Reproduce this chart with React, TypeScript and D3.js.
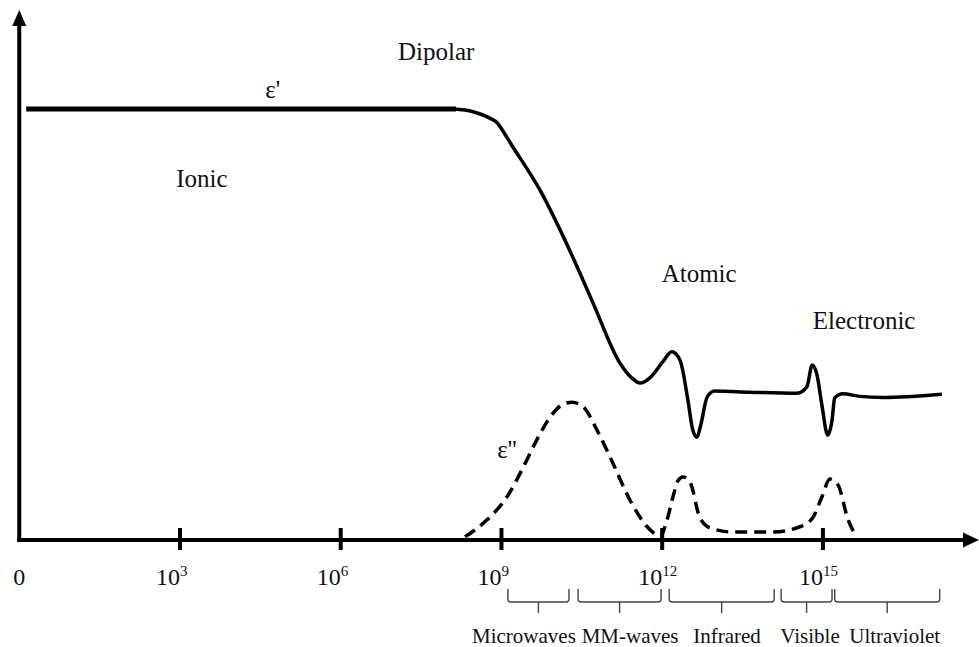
import React from "react";
import * as d3 from "d3";

// x: log10(frequency), y: relative permittivity (arbitrary units)
const epsRealFlat: [number, number][] = [
  [0.13, 8.13],
  [8.15, 8.13],
];

const epsReal: [number, number][] = [
  [8.1, 8.13], [8.47, 8.08], [8.78, 7.96], [8.93, 7.86], [9.0, 7.76], [9.16, 7.5],
  [9.72, 6.6], [10.33, 5.34],
  [10.71, 4.47], [11.21, 3.34], [11.43, 3.06], [11.59, 2.96], [11.77, 3.06],
  [12.01, 3.36], [12.18, 3.55], [12.33, 3.4], [12.48, 2.64], [12.57, 2.08],
  [12.65, 1.94], [12.72, 2.17], [12.84, 2.7], [12.98, 2.81], [13.64, 2.79],
  [14.52, 2.77], [14.7, 2.89], [14.8, 3.3], [14.89, 3.11], [14.98, 2.55],
  [15.09, 1.98], [15.17, 2.26], [15.22, 2.68], [15.37, 2.76], [15.69, 2.71],
  [16.12, 2.69], [17.22, 2.75],
];

const epsImag: [number, number][] = [
  [8.32, 0.06], [8.73, 0.38], [9.1, 0.81], [9.38, 1.32], [9.66, 1.89], [9.91, 2.32],
  [10.13, 2.55], [10.32, 2.6], [10.53, 2.51], [10.78, 2.08], [11.08, 1.45],
  [11.4, 0.75], [11.72, 0.25], [11.9, 0.09], [11.96, 0.06], [12.09, 0.38],
  [12.2, 0.81], [12.29, 1.11], [12.39, 1.19], [12.52, 1.09], [12.7, 0.43],
  [12.89, 0.23], [13.32, 0.15], [14.07, 0.15], [14.57, 0.25], [14.81, 0.42],
  [14.98, 0.81], [15.13, 1.15], [15.28, 1.04], [15.47, 0.38], [15.63, 0.06],
];

const tickValues = [0, 3, 6, 9, 12, 15];

const bandNames = ["Microwaves", "MM-waves", "Infrared", "Visible", "Ultraviolet"];
const bandStart = [9.12, 10.43, 12.13, 14.22, 15.22];
const bandEnd = [10.26, 11.98, 14.09, 15.17, 17.18];
const bandLabelAt = [9.42, 11.4, 13.21, 14.76, 16.34];

const annoText = ["Dipolar", "ε'", "Ionic", "Atomic", "Electronic", "ε''"];
const annoX = [7.07, 4.59, 2.93, 11.99, 14.81, 8.92];
const annoY = [9.06, 8.34, 6.66, 4.87, 3.98, 1.55];

const W = 979;
const H = 647;

export default function App() {
  const x = d3.scaleLinear().domain([0, 17.9]).range([19.25, 978.3]);
  const y = d3.scaleLinear().domain([0, 10]).range([540, 10]);

  const line = d3
    .line<[number, number]>()
    .x((d) => x(d[0]))
    .y((d) => y(d[1]))
    .curve(d3.curveMonotoneX);
  const straight = d3
    .line<[number, number]>()
    .x((d) => x(d[0]))
    .y((d) => y(d[1]));

  const x0 = x(0);
  const y0 = y(0);
  const serif = "'Liberation Serif', 'Times New Roman', serif";
  const bandTop = y0 + 49;
  const bandBot = y0 + 62;

  return (
    <svg
      width={W}
      height={H}
      viewBox={`0 0 ${W} ${H}`}
      style={{ position: "absolute", left: 0, top: 0, background: "#fff" }}
    >
      <rect width={W} height={H} fill="#fff" />
      {/* axes */}
      <line x1={x0} y1={y0 + 2} x2={x0} y2={24} stroke="#000" strokeWidth={4} />
      <path d={`M${x0},10 L${x0 - 7},26 L${x0 + 7},26 Z`} fill="#000" />
      <line x1={x0 - 2} y1={y0} x2={966} y2={y0} stroke="#000" strokeWidth={4} />
      <path d={`M979,${y0} L963,${y0 - 7.5} L963,${y0 + 7.5} Z`} fill="#000" />

      {/* ticks */}
      {tickValues
        .filter((v) => v > 0)
        .map((v) => (
          <line key={"t" + v} x1={x(v)} x2={x(v)} y1={y0 - 12} y2={y0 + 10} stroke="#000" strokeWidth={4} />
        ))}
      {tickValues.map((v) =>
        v === 0 ? (
          <text key={"l" + v} x={x(v)} y={585} textAnchor="middle" fontFamily={serif} fontSize={24} fill="#111">
            0
          </text>
        ) : (
          <text key={"l" + v} x={x(v) - 24} y={585} fontFamily={serif} fontSize={24} fill="#111">
            10
            <tspan dy={-9} fontSize={15}>
              {v}
            </tspan>
          </text>
        )
      )}

      {/* curves */}
      <path d={straight(epsRealFlat) || ""} fill="none" stroke="#000" strokeWidth={5} />
      <path d={line(epsReal) || ""} fill="none" stroke="#000" strokeWidth={3.5} strokeLinejoin="round" />
      <path
        d={line(epsImag) || ""}
        fill="none"
        stroke="#000"
        strokeWidth={3.5}
        strokeDasharray="12 7"
        strokeLinejoin="round"
      />

      {/* annotations */}
      {annoText.map((t, i) => (
        <text key={t} x={x(annoX[i])} y={y(annoY[i])} fontFamily={serif} fontSize={25} fill="#111">
          {t}
        </text>
      ))}

      {/* spectrum bands */}
      {bandNames.map((name, i) => {
        const a = x(bandStart[i]);
        const b = x(bandEnd[i]);
        const m = (a + b) / 2;
        const r = 3;
        const d = `M${a},${bandTop} L${a},${bandBot - r} Q${a},${bandBot} ${a + r},${bandBot} L${b - r},${bandBot} Q${b},${bandBot} ${b},${bandBot - r} L${b},${bandTop} M${m},${bandBot} L${m},${bandBot + 11}`;
        return (
          <g key={name}>
            <path d={d} fill="none" stroke="#444" strokeWidth={1.4} />
            <text x={x(bandLabelAt[i])} y={643} textAnchor="middle" fontFamily={serif} fontSize={21} fill="#111">
              {name}
            </text>
          </g>
        );
      })}
    </svg>
  );
}
